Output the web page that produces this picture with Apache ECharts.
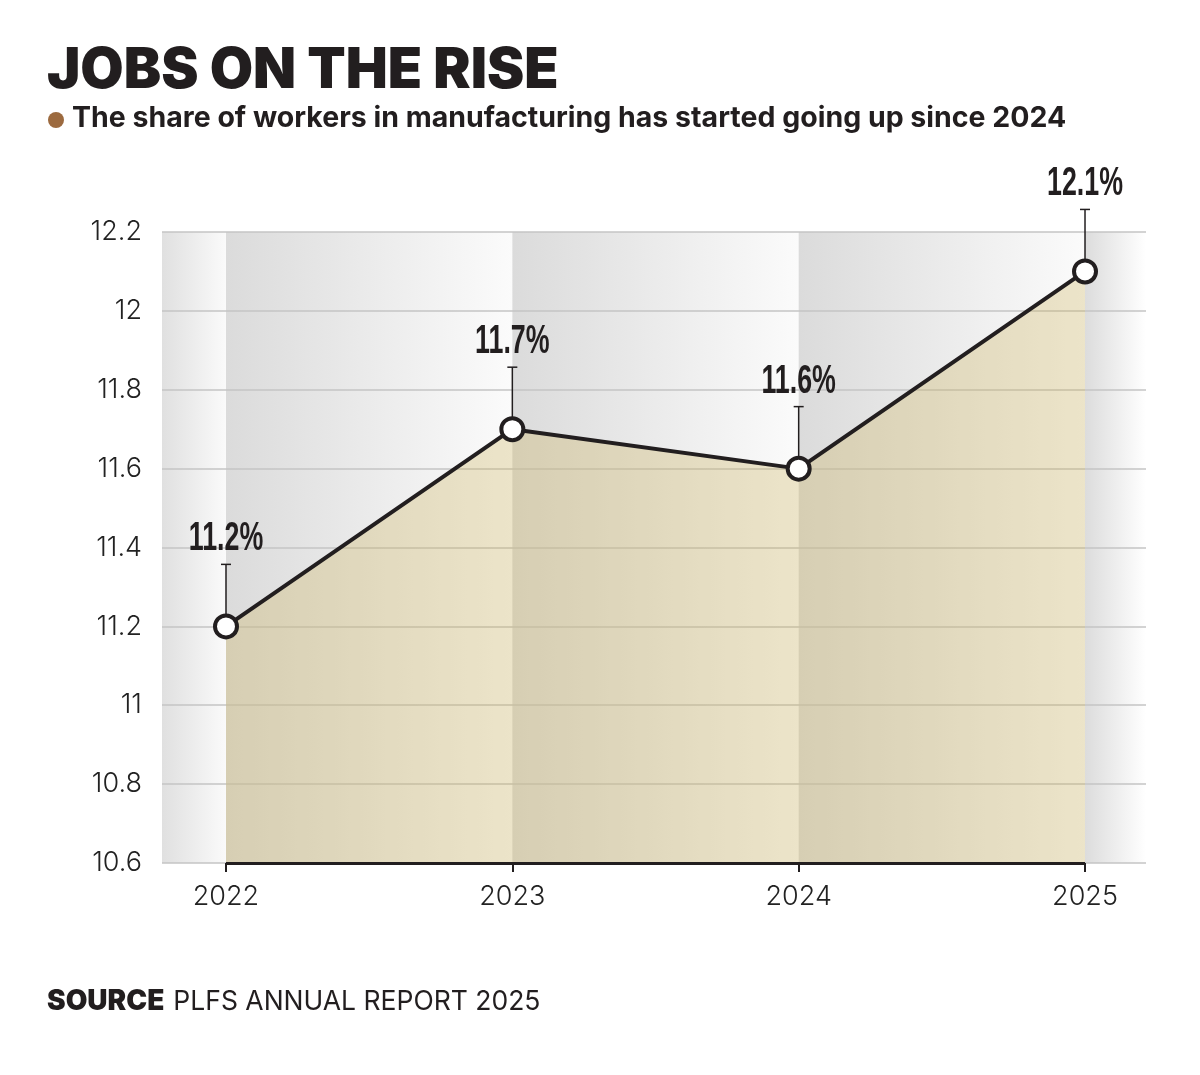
<!DOCTYPE html>
<html>
<head>
<meta charset="utf-8">
<title>Jobs on the rise</title>
<script src="https://cdn.jsdelivr.net/npm/echarts@6/dist/echarts.min.js"></script>
<style>
  html, body { margin: 0; padding: 0; background: #fff; }
  #chart { width: 1200px; height: 1075px; }
</style>
</head>
<body>
<div id="chart"></div>
<script>
// data
var years = [2022, 2023, 2024, 2025];
var shareValues = [11.2, 11.7, 11.6, 12.1];
var yTicks = { min: 10.6, max: 12.2, step: 0.2 };

var titleText = 'JOBS ON THE RISE';
var subtitleText = 'The share of workers in manufacturing has started going up since 2024';
var sourceLabel = 'SOURCE';
var sourceText = 'PLFS ANNUAL REPORT 2025';

var INK = '#221e1f';
var BODY_FONT = 'Inter, "Noto Sans", "DejaVu Sans", sans-serif';
var LABEL_FONT = '"Liberation Sans", Arial, sans-serif';

// x axis runs a bit past first/last year so the grey bands show at the edges
var xMin = 2021.7765;
var xMax = 2025.213;

var linePoints = years.map(function (y, i) { return [y, shareValues[i]]; });
var pointLabels = shareValues.map(function (v) { return v.toFixed(1) + '%'; });

// background bands: [start, end, leftColour, rightColour]
var bandEdges = [xMin].concat(years).concat([xMax]);
var bands = [];
for (var i = 0; i < bandEdges.length - 1; i++) {
	var left = '#dbdbdb', right = '#fbfbfb';
	if (i === 0) { left = '#e0e0e0'; right = '#fafafa'; }
	if (i === bandEdges.length - 2) { left = '#dcdcdc'; right = '#ffffff'; }
	bands.push([bandEdges[i], bandEdges[i + 1], left, right]);
}

var chart = echarts.init(document.getElementById('chart'), null, { renderer: 'canvas' });

var option = {
	backgroundColor: '#ffffff',
	animation: false,
	grid: { left: 162, right: 54, top: 232, bottom: 212 },
	xAxis: {
		type: 'value',
		min: xMin,
		max: xMax,
		z: 1,
		axisLine: { show: false },
		splitLine: { show: false },
		axisTick: {
			show: true,
			customValues: years,
			length: 9,
			lineStyle: { color: INK, width: 2 }
		},
		axisLabel: {
			customValues: years,
			margin: 20,
			color: '#222',
			fontFamily: BODY_FONT,
			fontWeight: 300,
			fontSize: 27,
			formatter: function (v) { return String(Math.round(v)); }
		}
	},
	yAxis: {
		type: 'value',
		min: yTicks.min,
		max: yTicks.max,
		interval: yTicks.step,
		z: 1,
		axisLine: { show: false },
		axisTick: { show: false },
		splitLine: { show: true, lineStyle: { color: '#c4c4c4', width: 1.5 } },
		axisLabel: {
			margin: 20,
			color: '#222',
			fontFamily: BODY_FONT,
			fontWeight: 300,
			fontSize: 27,
			formatter: function (v) { return String(+v.toFixed(1)); }
		}
	},
	series: [
		{
			// grey gradient columns behind everything
			type: 'custom',
			z: 0,
			silent: true,
			data: bands,
			renderItem: function (params, api) {
				var a = api.coord([api.value(0), yTicks.max]);
				var b = api.coord([api.value(1), yTicks.min]);
				var d = bands[params.dataIndex];
				return {
					type: 'rect',
					shape: { x: a[0], y: a[1], width: b[0] - a[0], height: b[1] - a[1] },
					style: {
						fill: new echarts.graphic.LinearGradient(0, 0, 1, 0, [
							{ offset: 0, color: d[2] },
							{ offset: 1, color: d[3] }
						])
					}
				};
			}
		},
		{
			// leader lines + value labels
			type: 'custom',
			z: 2,
			silent: true,
			data: linePoints,
			renderItem: function (params, api) {
				var p = api.coord([api.value(0), api.value(1)]);
				return {
					type: 'group',
					children: [
						{
							type: 'line',
							shape: { x1: p[0], y1: p[1], x2: p[0], y2: p[1] - 62 },
							style: { stroke: INK, lineWidth: 1.5 }
						},
						{
							type: 'line',
							shape: { x1: p[0] - 5, y1: p[1] - 62, x2: p[0] + 5, y2: p[1] - 62 },
							style: { stroke: INK, lineWidth: 1.5 }
						},
						{
							// narrow the bold face to look like a condensed font
							type: 'text',
							x: p[0],
							y: p[1] - 87,
							scaleX: 0.67,
							style: {
								text: pointLabels[params.dataIndex],
								fill: INK,
								font: 'bold 40px ' + LABEL_FONT,
								align: 'center',
								verticalAlign: 'middle'
							}
						}
					]
				};
			}
		},
		{
			name: 'share',
			type: 'line',
			z: 3,
			data: linePoints,
			symbol: 'circle',
			symbolSize: 22,
			itemStyle: { color: '#ffffff', borderColor: INK, borderWidth: 4 },
			lineStyle: { color: INK, width: 4 },
			areaStyle: { color: 'rgba(205,179,96,0.45)', origin: 'start' },
			markLine: {
				silent: true,
				symbol: ['none', 'none'],
				label: { show: false },
				lineStyle: { color: INK, width: 3, type: 'solid' },
				data: [[
					{ coord: [years[0], yTicks.min] },
					{ coord: [years[years.length - 1], yTicks.min] }
				]]
			}
		}
	],
	graphic: [
		{
			type: 'text',
			left: 47,
			top: 43,
			style: {
				text: titleText,
				fill: INK,
				font: '900 56px ' + BODY_FONT
			}
		},
		{
			type: 'circle',
			shape: { cx: 56, cy: 120, r: 8 },
			style: { fill: '#9c6a3f' }
		},
		{
			type: 'text',
			left: 72,
			top: 104,
			style: {
				text: subtitleText,
				fill: INK,
				font: '700 28.5px ' + BODY_FONT
			}
		},
		{
			type: 'text',
			left: 47,
			top: 988,
			style: {
				text: '{b|' + sourceLabel + '}{r|' + sourceText + '}',
				rich: {
					b: { fill: INK, fontFamily: BODY_FONT, fontWeight: 900, fontSize: 28 },
					r: { fill: INK, fontFamily: BODY_FONT, fontWeight: 400, fontSize: 26.5, padding: [0, 0, 0, 9] }
				}
			}
		}
	]
};

chart.setOption(option);
</script>
</body>
</html>
